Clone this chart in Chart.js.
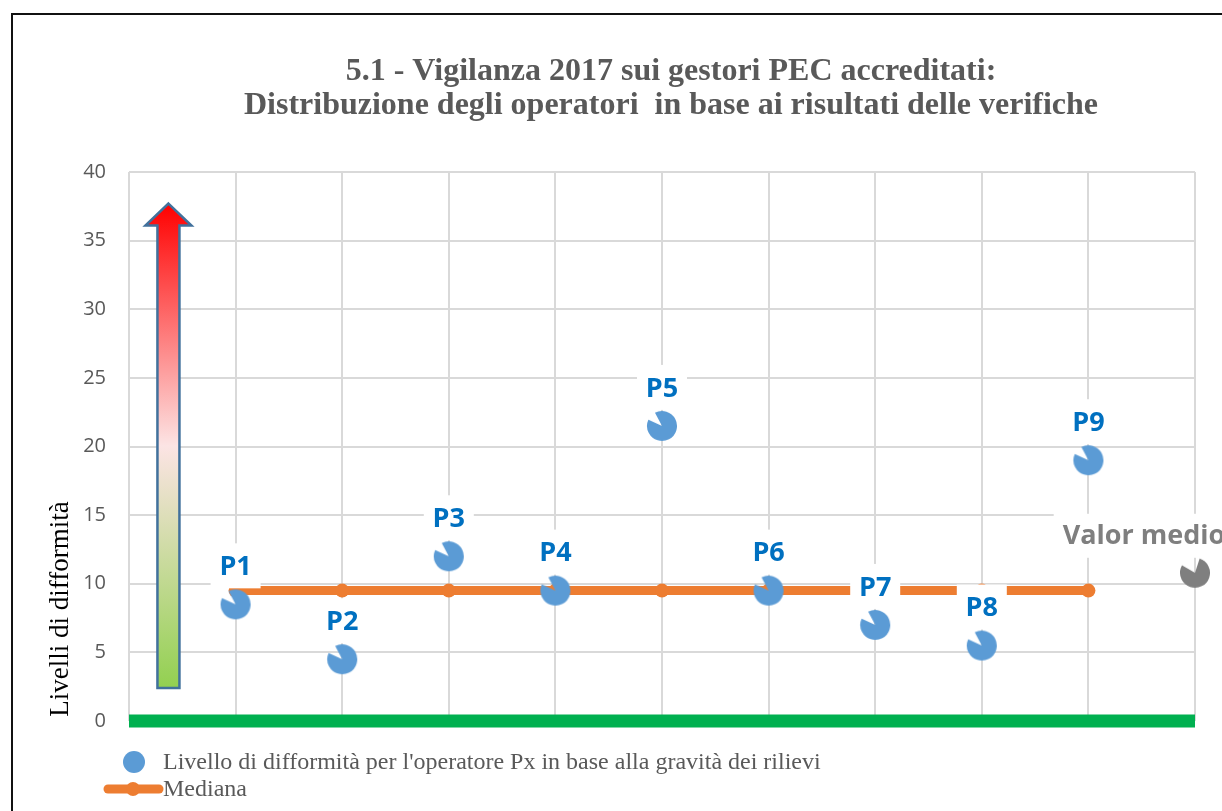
<!DOCTYPE html>
<html><head><meta charset="utf-8">
<script src="https://cdn.jsdelivr.net/npm/chart.js@4.4.0/dist/chart.umd.min.js"></script>
<style>html,body{margin:0;padding:0;background:#fff;overflow:hidden}#wrap{width:1222px;height:811px}</style>
</head><body><div id="wrap"><canvas id="c" width="1222" height="811"></canvas></div>
<script>
// ---- data ----
const titleLines = ['5.1 - Vigilanza 2017 sui gestori PEC accreditati:', 'Distribuzione degli operatori  in base ai risultati delle verifiche'];
const operatorLabels = ['P1', 'P2', 'P3', 'P4', 'P5', 'P6', 'P7', 'P8', 'P9'];
const operatorX = [1, 2, 3, 4, 5, 6, 7, 8, 9];
const operatorValues = [8.5, 4.5, 12, 9.5, 21.5, 9.5, 7, 5.5, 19];
const medianX = [1, 2, 3, 4, 5, 6, 7, 8, 9];
const medianValues = [9.5, 9.5, 9.5, 9.5, 9.5, 9.5, 9.5, 9.5, 9.5];
const meanLabels = ['Valor medio'];
const meanX = [10];
const meanValues = [10.8];
const yTickValues = [0, 5, 10, 15, 20, 25, 30, 35, 40];
const yAxisTitle = 'Livelli di difformità';
const seriesNames = ["Livello di difformità per l'operatore Px in base alla gravità dei rilievi", 'Mediana', 'Valor medio'];
const arrowRange = [2.4, 37.7]; // decorative severity arrow, in y-axis units
const arrowXValue = 0.37;

// ---- styles ----
const BLUE = '#5B9BD5', ORANGE = '#ED7D31', GREY = '#7F7F7F', LABEL_BLUE = '#0070C0', TXT = '#595959', GREEN = '#00B050';

function pac(color, r, a0, a1) {
  const c = document.createElement('canvas');
  c.width = c.height = 2 * r + 2;
  const g = c.getContext('2d');
  g.fillStyle = color;
  g.beginPath();
  g.moveTo(r + 1, r + 1);
  g.arc(r + 1, r + 1, r, a1, a0 + 2 * Math.PI);
  g.closePath();
  g.fill();
  return c;
}
const deg = Math.PI / 180;
const bluePac = pac(BLUE, 15, -155 * deg, -118 * deg);
const greyPac = pac(GREY, 15, -150 * deg, -72 * deg);

const zip = (xs, ys) => xs.map((x, i) => ({x: x, y: ys[i]}));

const deco = {
  id: 'deco',
  beforeDraw(chart) {
    const ctx = chart.ctx;
    ctx.save();
    ctx.fillStyle = '#fff';
    ctx.fillRect(0, 0, chart.width, chart.height);
    ctx.strokeStyle = '#111';
    ctx.lineWidth = 2;
    ctx.strokeRect(12, 14, 1400, 1000);
    ctx.restore();
  },
  beforeDatasetsDraw(chart) {
    const ctx = chart.ctx, xs = chart.scales.x, ys = chart.scales.y;
    ctx.save();
    // green zero baseline
    const y0 = ys.getPixelForValue(0);
    ctx.fillStyle = GREEN;
    ctx.fillRect(xs.left, y0 - 6.5, xs.right - xs.left, 13);
    // severity arrow
    const cx = xs.getPixelForValue(arrowXValue);
    const yb = ys.getPixelForValue(arrowRange[0]);
    const yt = ys.getPixelForValue(arrowRange[1]);
    const bw = 11, hw = 23, hh = 22;
    const grad = ctx.createLinearGradient(0, yt, 0, yb);
    grad.addColorStop(0, '#FF0000');
    grad.addColorStop(0.5, '#FCE4E4');
    grad.addColorStop(1, '#92D050');
    ctx.beginPath();
    ctx.moveTo(cx, yt);
    ctx.lineTo(cx + hw, yt + hh);
    ctx.lineTo(cx + bw, yt + hh);
    ctx.lineTo(cx + bw, yb);
    ctx.lineTo(cx - bw, yb);
    ctx.lineTo(cx - bw, yt + hh);
    ctx.lineTo(cx - hw, yt + hh);
    ctx.closePath();
    ctx.fillStyle = grad;
    ctx.fill();
    ctx.strokeStyle = '#41719C';
    ctx.lineWidth = 2.5;
    ctx.lineJoin = 'miter';
    ctx.stroke();
    ctx.restore();
  },
  afterDatasetDraw(chart, args) {
    if (args.index !== 2) return;
    const ctx = chart.ctx;
    ctx.save();
    ctx.font = 'bold 27px "Open Sans"';
    ctx.textAlign = 'center';
    ctx.textBaseline = 'middle';
    chart.getDatasetMeta(0).data.forEach((pt, i) => {
      const lx = pt.x, ly = pt.y - 38;
      ctx.fillStyle = '#fff';
      ctx.fillRect(lx - 25, ly - 23, 50, 45);
      ctx.fillStyle = LABEL_BLUE;
      ctx.fillText(operatorLabels[i], lx, ly + 1);
    });
    chart.getDatasetMeta(1).data.forEach((pt, i) => {
      const lx = pt.x - 51, ly = pt.y - 37;
      const w = ctx.measureText(meanLabels[i]).width + 18;
      ctx.fillStyle = '#fff';
      ctx.fillRect(lx - w / 2, ly - 22, w, 44);
      ctx.fillStyle = GREY;
      ctx.fillText(meanLabels[i], lx, ly + 1);
    });
    ctx.restore();
  },
  afterDraw(chart) {
    const ctx = chart.ctx;
    ctx.save();
    // title
    ctx.fillStyle = TXT;
    ctx.font = 'bold 32px "Liberation Serif"';
    ctx.textAlign = 'center';
    ctx.textBaseline = 'middle';
    ctx.fillText(titleLines[0], 671, 72);
    ctx.fillText(titleLines[1], 671, 106);
    // y axis title
    ctx.save();
    ctx.translate(61, 609);
    ctx.rotate(-Math.PI / 2);
    ctx.fillStyle = '#000';
    ctx.font = '27px "Liberation Serif"';
    ctx.fillText(yAxisTitle, 0, 0);
    ctx.restore();
    // legend
    ctx.textAlign = 'left';
    ctx.font = '24px "Liberation Serif"';
    ctx.fillStyle = BLUE;
    ctx.beginPath(); ctx.arc(134, 762, 11, 0, 2 * Math.PI); ctx.fill();
    ctx.fillStyle = TXT;
    ctx.fillText(seriesNames[0], 163, 763);
    ctx.strokeStyle = ORANGE; ctx.lineWidth = 9; ctx.lineCap = 'round';
    ctx.beginPath(); ctx.moveTo(108, 789); ctx.lineTo(159, 789); ctx.stroke();
    ctx.fillStyle = ORANGE;
    ctx.beginPath(); ctx.arc(133, 789, 7, 0, 2 * Math.PI); ctx.fill();
    ctx.fillStyle = TXT;
    ctx.fillText(seriesNames[1], 163, 790);
    ctx.restore();
  }
};

new Chart(document.getElementById('c'), {
  type: 'scatter',
  data: {
    datasets: [
      { label: seriesNames[0], data: zip(operatorX, operatorValues), pointStyle: bluePac, pointRadius: 15, backgroundColor: BLUE, clip: false },
      { label: seriesNames[2], data: zip(meanX, meanValues), pointStyle: greyPac, pointRadius: 15, backgroundColor: GREY, clip: false },
      { label: seriesNames[1], type: 'line', data: zip(medianX, medianValues), borderColor: ORANGE, borderWidth: 9, backgroundColor: ORANGE,
        pointRadius: 7, pointBorderWidth: 0, pointBackgroundColor: ORANGE, fill: false, tension: 0, clip: false }
    ]
  },
  options: {
    responsive: false,
    devicePixelRatio: 1,
    animation: false,
    events: [],
    layout: { padding: { left: 0, top: 172, right: 27, bottom: 0 } },
    plugins: { legend: { display: false }, title: { display: false }, tooltip: { enabled: false } },
    scales: {
      x: {
        type: 'linear', min: 0, max: 10,
        ticks: { display: false, stepSize: 1 },
        grid: { color: '#D9D9D9', lineWidth: 2, drawTicks: false },
        border: { display: false },
        afterFit(s) { s.height = 90; }
      },
      y: {
        min: 0, max: 40,
        afterBuildTicks(s) { s.ticks = yTickValues.map(v => ({value: v})); },
        ticks: { color: TXT, font: { family: '"Open Sans"', size: 20 }, padding: 23 },
        grid: { color: '#D9D9D9', lineWidth: 2, drawTicks: false },
        border: { display: false },
        afterFit(s) { s.width = 129; }
      }
    }
  },
  plugins: [deco]
});
</script>
</body></html>
